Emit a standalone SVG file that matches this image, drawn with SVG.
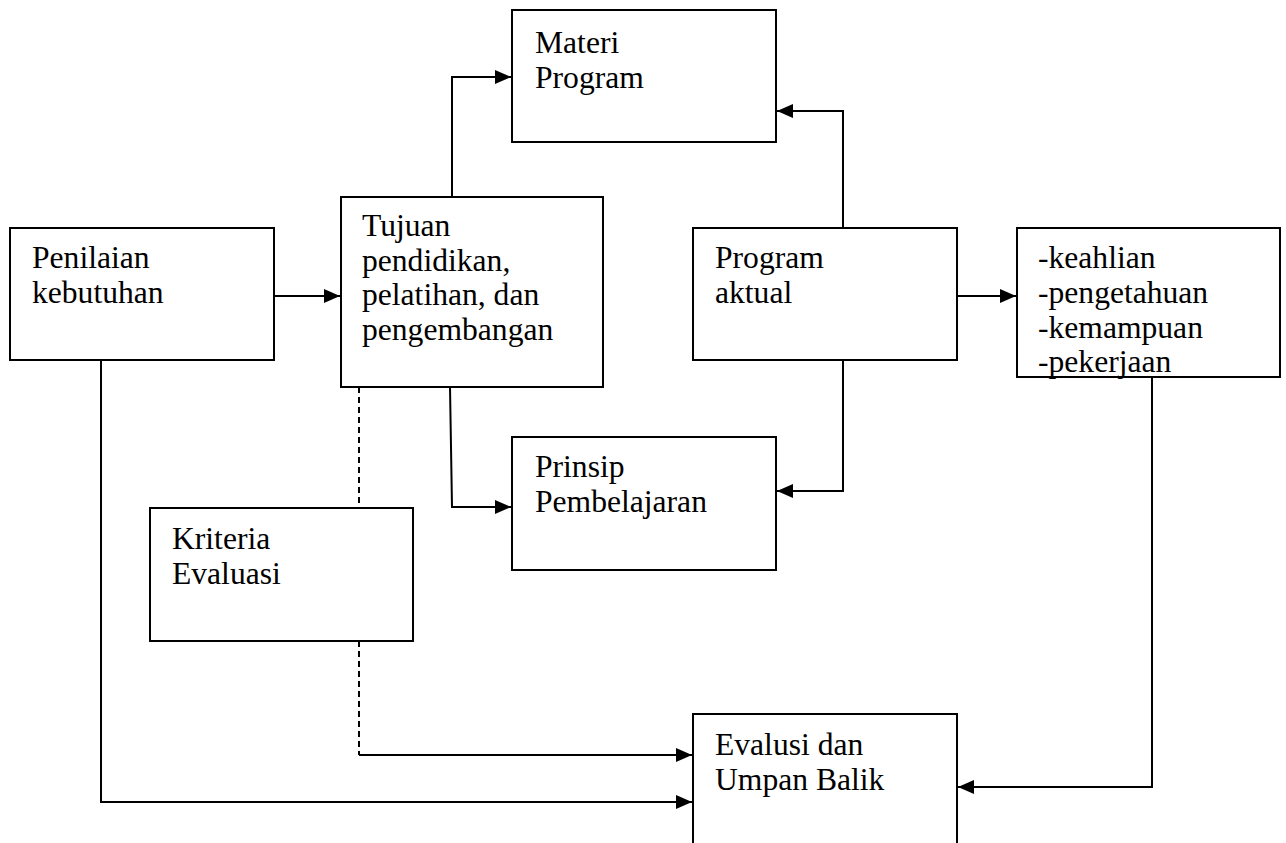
<svg xmlns="http://www.w3.org/2000/svg" width="1286" height="843" viewBox="0 0 1286 843">
<style>
.box{fill:#fff;stroke:#000;stroke-width:2}
.t{font-family:"Liberation Serif","Times New Roman",serif;font-size:31.6px;fill:#000}
.c{fill:none;stroke:#000;stroke-width:2}
.d{fill:none;stroke:#000;stroke-width:2;stroke-dasharray:6 4}
</style>
<defs>
<marker id="ah" markerUnits="userSpaceOnUse" markerWidth="17" markerHeight="15" refX="16" refY="7" orient="auto">
<path d="M0,0 L16,7 L0,14 z" fill="#000"/>
</marker>
</defs>
<rect width="1286" height="843" fill="#fff"/>
<g id="connectors">
<path class="c" d="M452,197 L452,77 L511,77" marker-end="url(#ah)"/>
<path class="c" d="M843,228 L843,111 L777,111" marker-end="url(#ah)"/>
<path class="c" d="M274,296 L340,296" marker-end="url(#ah)"/>
<path class="c" d="M957,296 L1016,296" marker-end="url(#ah)"/>
<path class="c" d="M843,360 L843,491 L777,491" marker-end="url(#ah)"/>
<path class="c" d="M450,387 L452,507 L511,507" marker-end="url(#ah)"/>
<path class="d" d="M359,387 L359,508"/>
<path class="d" d="M359,641 L359,755"/>
<path class="c" d="M359,755 L692,755" marker-end="url(#ah)"/>
<path class="c" d="M101,360 L101,802 L692,802" marker-end="url(#ah)"/>
<path class="c" d="M1152,377 L1152,787 L958,787" marker-end="url(#ah)"/>
</g>
<g id="materi">
<rect class="box" x="512" y="10" width="264" height="132"/>
<text class="t" x="535" y="53">Materi</text>
<text class="t" x="535" y="88">Program</text>
</g>
<g id="tujuan">
<rect class="box" x="341" y="197" width="262" height="190"/>
<text class="t" x="362" y="236">Tujuan</text>
<text class="t" x="362" y="270.5">pendidikan,</text>
<text class="t" x="362" y="305">pelatihan, dan</text>
<text class="t" x="362" y="339.5">pengembangan</text>
</g>
<g id="penilaian">
<rect class="box" x="10" y="228" width="264" height="132"/>
<text class="t" x="32" y="268">Penilaian</text>
<text class="t" x="32" y="303">kebutuhan</text>
</g>
<g id="program">
<rect class="box" x="693" y="228" width="264" height="132"/>
<text class="t" x="715" y="268">Program</text>
<text class="t" x="715" y="303">aktual</text>
</g>
<g id="keahlian">
<rect class="box" x="1017" y="228" width="263" height="149"/>
<text class="t" x="1038" y="268">-keahlian</text>
<text class="t" x="1038" y="303">-pengetahuan</text>
<text class="t" x="1038" y="337.5">-kemampuan</text>
<text class="t" x="1038" y="372">-pekerjaan</text>
</g>
<g id="prinsip">
<rect class="box" x="512" y="437" width="264" height="133"/>
<text class="t" x="535" y="477">Prinsip</text>
<text class="t" x="535" y="512">Pembelajaran</text>
</g>
<g id="kriteria">
<rect class="box" x="150" y="508" width="263" height="133"/>
<text class="t" x="172" y="549">Kriteria</text>
<text class="t" x="172" y="584">Evaluasi</text>
</g>
<g id="evaluasi">
<rect class="box" x="693" y="714" width="264" height="200"/>
<text class="t" x="715" y="755">Evalusi dan</text>
<text class="t" x="715" y="790">Umpan Balik</text>
</g>
</svg>
